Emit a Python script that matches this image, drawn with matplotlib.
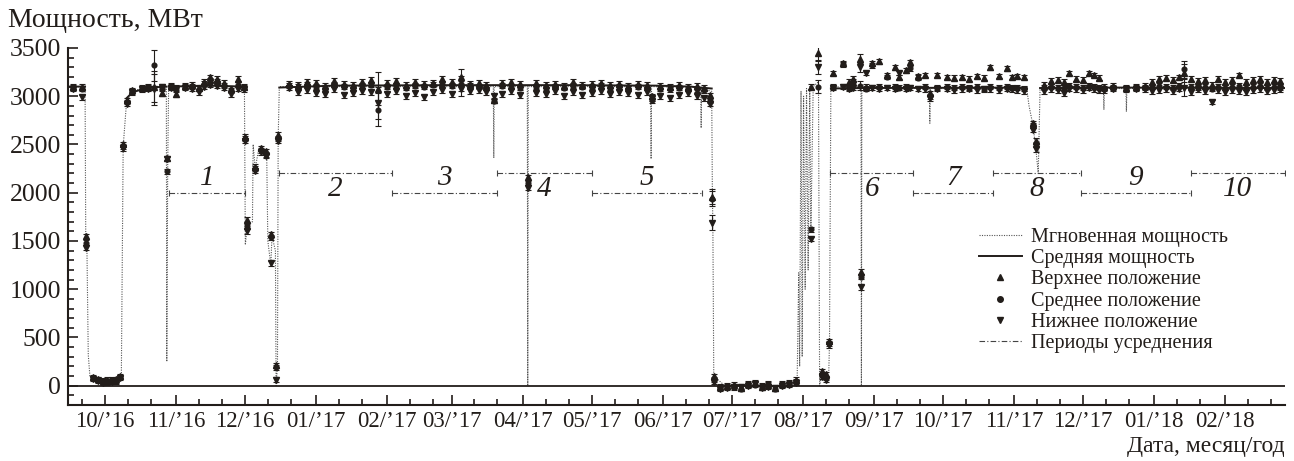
import numpy as np
import matplotlib
matplotlib.use('Agg')
import matplotlib.pyplot as plt
import matplotlib.dates as mdates
from matplotlib.lines import Line2D

plt.rcParams['font.family'] = ['Liberation Serif', 'DejaVu Serif']

# days are counted from 2016-10-01
start = '2016-10-01'

# instantaneous power, MW
inst_day = [-16, -8.6, -8.3, -7.8, -7.2, -6.5, -4, -2, 0, 2, 4, 6, 7.2, 8, 9.5, 12, 16, 20,
            26.8, 27, 27.4, 27.8, 60.8, 61.2, 62, 64.3, 64.6, 65.5, 67, 70.5, 71, 72.3, 72.8,
            74.3, 74.6, 75.2, 75.5, 76, 169.2, 169.4, 169.6, 184, 184.2, 184.4, 237.7, 237.9,
            238.1, 259.5, 259.7, 259.9, 264.3, 264.6, 264.8, 265.2, 270, 280, 290, 301.5,
            302.2, 302.6, 303.2, 303.7, 304.3, 305, 305.6, 306.3, 307, 307.5, 308.5, 310.8,
            311.3, 312.5, 314, 315.3, 315.6, 316.2, 329.3, 329.5, 329.7, 359.1, 359.3, 359.5,
            401.5, 402.5, 404.2, 405.5, 406.5, 407.3, 434.9, 435.1, 435.3, 444.7, 444.9,
            445.1, 514]
inst_pow = [3100, 3100, 1550, 1450, 320, 100, 80, 50, 40, 60, 50, 70, 90, 2480, 2950, 3050, 3080, 3100,
            3100, 250, 2300, 3100, 3100, 1460, 1650, 1700, 2500, 2250, 2450, 2400, 1500, 1250, 1550,
            1400, 0, 200, 2560, 3100, 3100, 2360, 3100, 3100, 0, 3100, 3100, 2350,
            3100, 3090, 2670, 3080, 3050, 1960, 1690, 100, 0, 10, -10, 40,
            1170, 200, 3050, 300, 3000, 1000, 3080, 1200, 3100, 1600, 3100, 3150,
            0, 150, 100, 150, 450, 3100, 3090, 0, 3090, 3080, 2720, 3080,
            3080, 2900, 2700, 2450, 2200, 3080, 3080, 2860, 3080, 3080, 2840,
            3080, 3080]

# average power, MW (nan = no average)
mean_day = [-16, -8.6, -8.5, 9.5, 12, 16, 20, 26.8, 27, 27.8, 45, 60.8, 61, 76, 100, 150, 200,
            240, 255, 264.3, 264.5, 316.2, 330, 401.5, 402, 407.3, 440, 514]
mean_pow = [3100, 3100, np.nan, 2980, 3040, 3070, 3090, 3100, np.nan, 3100, 3110, 3100, np.nan,
            3090, 3110, 3115, 3115, 3110, 3100, 3080, np.nan, 3080, 3085, 3090, np.nan, 3085,
            3090, 3085]

# power from detectors at upper / middle / lower position
meas_day = [-14, -10, -8.2, -5, -3, -1, 1, 3, 5, 6.5, 8, 9.5, 12, 16, 19, 21.4, 25, 27,
            29, 31, 35, 38, 41, 43, 46, 49, 52, 55, 58, 60.5, 61.2, 62, 65.5, 68, 70, 72.5, 74.5, 75.5,
            80, 84, 88, 92, 96, 100, 104, 108, 112, 116, 119, 123, 127, 131, 135, 139, 143, 147,
            151, 155, 159, 163, 166, 169.5, 173, 177, 181, 184.2, 188, 192, 196, 200, 204, 208,
            212, 216, 220, 224, 228, 232, 236, 238.5, 242, 246, 250, 254, 258, 261, 263.5, 264.5,
            265.5, 268, 271, 274, 277, 280, 283, 286, 289, 292, 295, 298, 301,
            307.5, 310.5, 312.5, 314, 315.5,
            317.3, 321.3, 324, 326, 328.7, 329.5, 331.7, 334, 337, 340.5, 344, 346, 349, 350.5,
            354, 357, 359.2, 362.3, 366.7, 370, 373.2, 376.5, 379.7, 383, 385.4, 389.3, 392.8,
            395, 397.2, 400.3, 404.2, 405.5, 409, 412, 415, 417.7, 419.9, 423, 426, 428.6, 431,
            433, 435, 439, 444.8, 449, 453, 456, 459, 462, 465, 468, 470, 473, 476, 479, 482.3,
            485, 488, 491, 494, 497, 500, 503, 506, 509, 512]
upper = [3100, 3100, 1550, 90, 70, 50, 60, 60, 70, 100, 2500, 2960, 3060, 3090, 3100, 3100, 3030, 2360,
         3110, 3020, 3110, 3120, 3090, 3150, 3200, 3180, 3140, 3080, 3180, 3100, 2580, 1720, 2270, 2460, 2430, 1570, 210, 2600,
         3130, 3120, 3150, 3140, 3110, 3160, 3130, 3120, 3150, 3170, 3080, 3140, 3160, 3120, 3150, 3130, 3140, 3180,
         3150, 3200, 3130, 3140, 3120, 2960, 3140, 3150, 3130, 2160, 3140, 3120, 3130, 3110, 3150, 3120,
         3130, 3140, 3120, 3130, 3110, 3130, 3120, 3000, 3110, 3100, 3120, 3100, 3110, 3090, 3010, 1960,
         100, -10, 0, 10, -20, 20, 30, -10, 10, -20, 20, 30, 60,
         3100, 3450, 150, 120, 460,
         3240, 3340, 3150, 3180, 3390, 1180, 3100, 3340, 3360, 3220, 3300, 3200, 3270, 3350,
         3210, 3220, 3030, 3220, 3200, 3190, 3200, 3180, 3210, 3190, 3300, 3210, 3290,
         3200, 3210, 3200, 2720, 2540, 3120, 3160, 3170, 3150, 3240, 3180, 3170, 3240, 3220,
         3190, 3100, 3110, 3090, 3100, 3110, 3150, 3180, 3190, 3170, 3200, 3240, 3180, 3160, 3170, 3120,
         3180, 3150, 3170, 3220, 3150, 3170, 3180, 3150, 3170, 3160]
middle = [3090, 3080, 1480, 80, 60, 40, 45, 50, 55, 90, 2480, 2940, 3050, 3080, 3090, 3320, 3090, 2220,
          3100, 3090, 3100, 3100, 3080, 3130, 3160, 3150, 3110, 3060, 3120, 3090, 2560, 1650, 2250, 2440, 2400, 1540, 190, 2560,
          3110, 3100, 3120, 3100, 3090, 3120, 3100, 3090, 3110, 3120, 2860, 3100, 3110, 3090, 3110, 3100, 3120, 3130,
          3110, 3130, 3110, 3100, 3090, 2950, 3110, 3100, 3090, 2100, 3100, 3090, 3100, 3090, 3110, 3100,
          3100, 3110, 3090, 3100, 3080, 3100, 3090, 2960, 3080, 3070, 3090, 3080, 3070, 3060, 2950, 1940,
          60, -20, -10, -5, -30, 10, 10, 0, 20, -30, 10, 20, 40,
          1620, 3100, 110, 80, 440,
          3100, 3330, 3090, 3150, 3110, 1130, 3080, 3320, 3100, 3200, 3100, 3090, 3100, 3290,
          3190, 3100, 3000, 3090, 3100, 3090, 3100, 3090, 3100, 3080, 3100, 3090, 3100,
          3090, 3090, 3080, 2700, 2500, 3090, 3100, 3090, 3090, 3110, 3100, 3090, 3110, 3100,
          3090, 3080, 3090, 3080, 3090, 3090, 3100, 3110, 3100, 3090, 3110, 3280, 3100, 3090, 3100, 3080,
          3100, 3090, 3100, 3110, 3090, 3100, 3110, 3090, 3100, 3090]
lower = [3080, 2990, 1430, 70, 50, 30, 35, 40, 45, 80, 2460, 2920, 3040, 3070, 3080, 3070, 3100, 2350,
         3090, 3080, 3090, 3080, 3040, 3100, 3120, 3110, 3090, 3020, 3080, 3070, 2540, 1600, 2230, 2420, 2380, 1270, 60, 2540,
         3090, 3040, 3060, 3030, 3020, 3070, 3010, 3030, 3050, 3040, 2930, 3020, 3050, 3000, 3030, 2990, 3040, 3060,
         3020, 3080, 3050, 3060, 3040, 3000, 3020, 3050, 3010, 2050, 3030, 3020, 3050, 3000, 3040, 3010,
         3030, 3050, 3020, 3040, 3030, 3010, 3040, 2980, 3000, 2980, 3010, 3030, 3000, 2980, 2920, 1690,
         40, -30, -20, -15, -10, 0, 20, -20, -10, -25, 0, 10, 30,
         1520, 3300, 90, 60, 420,
         3090, 3100, 3080, 3090, 3300, 1020, 3240, 3090, 3080, 3090, 3080, 3240, 3080, 3090,
         3080, 3070, 2980, 3080, 3080, 3060, 3070, 3080, 3060, 3070, 3070, 3060, 3080,
         3070, 3060, 3050, 2650, 2450, 3050, 3070, 3060, 3030, 3080, 3070, 3060, 3090, 3070,
         3060, 3060, 3080, 3070, 3080, 3070, 3050, 3060, 3070, 3050, 3080, 3090, 3040, 3070, 3050, 2940,
         3060, 3040, 3060, 3050, 3040, 3060, 3070, 3050, 3060, 3070]

# measurements with large uncertainty; all others +-25 MW
big_err_day = [21.4, 119, 155, 264.5, 310.5, 328.7, 470]
big_err = [160, 170, 80, 80, 70, 50, 90]

# averaging periods
period_start = ['2016-10-29', '2016-12-16', '2017-02-03', '2017-03-21', '2017-05-01',
                '2017-08-13', '2017-09-18', '2017-10-23', '2017-11-30', '2018-01-17']
period_end = ['2016-12-01', '2017-02-03', '2017-03-21', '2017-05-01', '2017-06-18',
              '2017-09-18', '2017-10-23', '2017-11-30', '2018-01-17', '2018-02-27']
period_level = [2000, 2200, 2000, 2200, 2000, 2200, 2000, 2200, 2000, 2200]
period_label = ['1', '2', '3', '4', '5', '6', '7', '8', '9', '10']

ink = '#221d1a'
t0 = mdates.datestr2num(start)
err = np.full(len(meas_day), 25.0)
for d, e in zip(big_err_day, big_err):
    err[meas_day.index(d)] = e

fig = plt.figure(figsize=(12.94, 4.61), dpi=100)
ax = fig.add_axes([0.0526, 0.1215, 0.9405, 0.7744])

ax.plot(t0 + np.array(inst_day), inst_pow, ls=(0, (1, 1.2)), lw=0.8, color='#555555')
ax.plot(t0 + np.array(mean_day), mean_pow, '-', lw=1.4, color=ink)
ax.axhline(0, color=ink, lw=1.3)

x = t0 + np.array(meas_day)
for vals, m, s in [(upper, '^', 3.8), (middle, 'o', 3.4), (lower, 'v', 3.8)]:
    ax.errorbar(x, vals, yerr=err, fmt=m, ms=s, color=ink, ecolor=ink, elinewidth=0.8,
                capsize=2, capthick=0.8)

for s, e, lev, lab in zip(period_start, period_end, period_level, period_label):
    xs = [mdates.datestr2num(s), mdates.datestr2num(e)]
    ax.plot(xs, [lev, lev], ls=(0, (5, 2, 1, 2)), lw=0.8, color='#444444',
            marker='|', ms=5, mew=0.8)
    dy = 150 if lev == 2000 else -160
    ax.text(sum(xs) / 2, lev + dy, lab, ha='center', va='center', fontsize=21,
            style='italic', color=ink)

ax.set_xlim(mdates.datestr2num('2016-09-15'), mdates.datestr2num('2018-02-27'))
ax.set_ylim(-200, 3500)
ax.xaxis.set_major_locator(mdates.MonthLocator())
ax.xaxis.set_minor_locator(mdates.DayLocator(bymonthday=[11, 21]))
ax.xaxis.set_major_formatter(mdates.DateFormatter('%m/\u2019%y'))
ax.yaxis.set_major_locator(plt.MultipleLocator(500))
ax.yaxis.set_minor_locator(plt.MultipleLocator(100))
ax.tick_params(which='both', direction='in', colors=ink, width=1.2)
ax.tick_params(axis='y', labelsize=18.5, pad=5)
ax.tick_params(axis='x', labelsize=16.5, pad=4)
ax.tick_params(which='major', length=7)
ax.tick_params(which='minor', length=4)
for sp in ['top', 'right']:
    ax.spines[sp].set_visible(False)
for sp in ['left', 'bottom']:
    ax.spines[sp].set_color(ink)
    ax.spines[sp].set_linewidth(1.5)

fig.text(0.006, 0.955, 'Мощность, МВт', fontsize=20, color=ink, va='center')
fig.text(0.993, 0.008, 'Дата, месяц/год', fontsize=17, color=ink, ha='right', va='bottom')

handles = [
    Line2D([], [], ls=(0, (1, 1.2)), lw=0.8, color='#555555'),
    Line2D([], [], ls='-', lw=1.4, color=ink),
    Line2D([], [], ls='none', marker='^', ms=4, color=ink),
    Line2D([], [], ls='none', marker='o', ms=4, color=ink),
    Line2D([], [], ls='none', marker='v', ms=4, color=ink),
    Line2D([], [], ls=(0, (5, 2, 1, 2)), lw=0.8, color='#444444'),
]
labels = ['Мгновенная мощность', 'Средняя мощность', 'Верхнее положение',
          'Среднее положение', 'Нижнее положение', 'Периоды усреднения']
fig.legend(handles, labels, loc='upper left', bbox_to_anchor=(0.749, 0.527),
           frameon=False, fontsize=14.5, handlelength=2.1, handletextpad=0.45,
           labelspacing=0.1, borderpad=0, labelcolor=ink)

fig.savefig('out.png', dpi=100)
